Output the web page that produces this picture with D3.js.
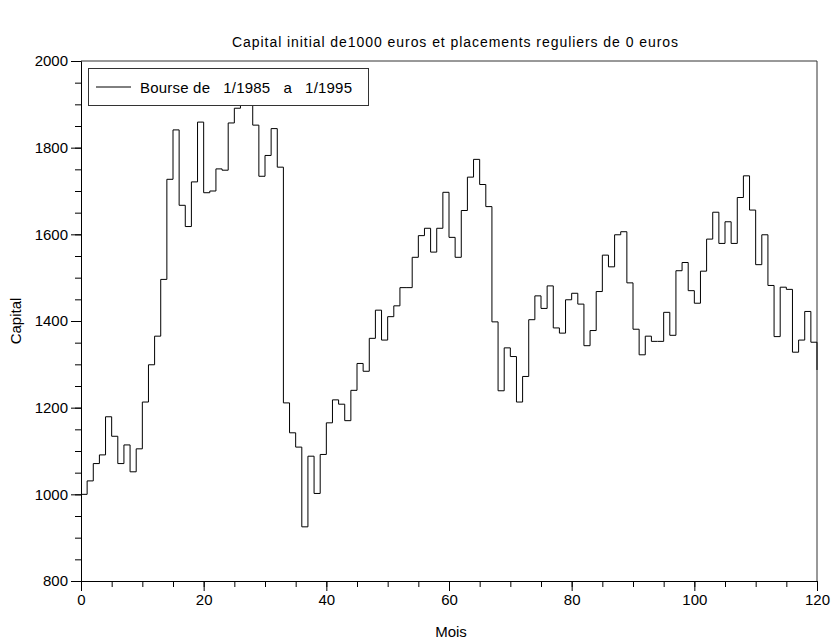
<!DOCTYPE html>
<html>
<head>
<meta charset="utf-8">
<script src="https://cdn.jsdelivr.net/npm/d3@7/dist/d3.min.js"></script>
<style>
  body { margin: 0; background: #fff; }
  text { font-family: "Liberation Sans", Arial, Helvetica, sans-serif; fill: #000; }
</style>
</head>
<body>
<svg id="chart" width="832" height="642"></svg>
<script>
// Monthly capital, month 0 .. 120
const months = d3.range(0, 121);
const capital = [
  1000, 1031, 1071, 1091, 1179, 1134, 1071, 1114, 1052, 1105,
  1213, 1299, 1365, 1496, 1727, 1841, 1667, 1618, 1721, 1859,
  1696, 1700, 1751, 1748, 1857, 1891, 1912, 1928, 1852, 1734,
  1782, 1844, 1755, 1211, 1142, 1109,  925, 1088, 1002, 1092,
  1165, 1218, 1208, 1170, 1240, 1302, 1284, 1360, 1425, 1356,
  1410, 1435, 1477, 1477, 1547, 1597, 1614, 1559, 1614, 1697,
  1593, 1547, 1655, 1732, 1773, 1715, 1664, 1398, 1239, 1338,
  1318, 1213, 1272, 1403, 1458, 1429, 1481, 1384, 1372, 1449,
  1464, 1439, 1343, 1378, 1468, 1552, 1525, 1599, 1606, 1488,
  1381, 1322, 1365, 1353, 1353, 1420, 1367, 1516, 1535, 1470,
  1441, 1515, 1589, 1651, 1579, 1629, 1579, 1685, 1735, 1656,
  1530, 1599, 1482, 1364, 1478, 1473, 1328, 1356, 1422, 1351,
  1287
];
const xTicks = [0, 20, 40, 60, 80, 100, 120];
const xMinorTicks = d3.range(0, 121, 5);
const yTicks = [800, 1000, 1200, 1400, 1600, 1800, 2000];
const yMinorTicks = d3.range(800, 2001, 50);

const titleText = "Capital initial de1000 euros et placements reguliers de 0 euros";
const xLabel = "Mois";
const yLabel = "Capital";
const legendLabel = "Bourse de   1/1985   a   1/1995";

const plot = { left: 81, right: 817, top: 61, bottom: 581 };

const svg = d3.select("#chart");

const x = d3.scaleLinear().domain([0, 120]).range([plot.left, plot.right]);
const y = d3.scaleLinear().domain([800, 2000]).range([plot.bottom, plot.top]);

// frame (top and right sides)
svg.append("path")
  .attr("d", `M${plot.left},${plot.top}H${plot.right}V${plot.bottom}`)
  .attr("fill", "none")
  .attr("stroke", "#333")
  .attr("stroke-width", 1);

// minor ticks
svg.append("g")
  .attr("transform", `translate(${plot.left},0)`)
  .call(d3.axisLeft(y).tickValues(yMinorTicks).tickSize(6).tickFormat(""))
  .call(g => g.select(".domain").remove());
svg.append("g")
  .attr("transform", `translate(0,${plot.bottom})`)
  .call(d3.axisBottom(x).tickValues(xMinorTicks).tickSize(6).tickFormat(""))
  .call(g => g.select(".domain").remove());

// major axes
const yAxis = svg.append("g")
  .attr("transform", `translate(${plot.left},0)`)
  .call(d3.axisLeft(y).tickValues(yTicks).tickSize(10).tickPadding(3).tickFormat(d3.format("d")));
const xAxis = svg.append("g")
  .attr("transform", `translate(0,${plot.bottom})`)
  .call(d3.axisBottom(x).tickValues(xTicks).tickSize(10).tickPadding(3).tickFormat(d3.format("d")));
[yAxis, xAxis].forEach(g => {
  g.attr("font-family", null);
  g.selectAll("text").attr("font-size", 15);
});

// capital series as a step curve
const line = d3.line()
  .x((d, i) => x(months[i]))
  .y(d => y(d))
  .curve(d3.curveStepAfter);

svg.append("path")
  .datum(capital)
  .attr("d", line)
  .attr("fill", "none")
  .attr("stroke", "#000")
  .attr("stroke-width", 1);

// legend
const legend = svg.append("g");
legend.append("rect")
  .attr("x", 88.5).attr("y", 68.5)
  .attr("width", 280).attr("height", 37)
  .attr("fill", "#fff")
  .attr("stroke", "#333");
legend.append("line")
  .attr("x1", 96).attr("x2", 131)
  .attr("y1", 87).attr("y2", 87)
  .attr("stroke", "#000");
legend.append("text")
  .attr("x", 140).attr("y", 92.5)
  .attr("font-size", 15)
  .attr("textLength", 212)
  .attr("lengthAdjust", "spacing")
  .style("white-space", "pre")
  .text(legendLabel);

// titles
svg.append("text")
  .attr("x", 455).attr("y", 47)
  .attr("text-anchor", "middle")
  .attr("font-size", 14)
  .attr("textLength", 446)
  .attr("lengthAdjust", "spacing")
  .text(titleText);

svg.append("text")
  .attr("x", 451).attr("y", 637)
  .attr("text-anchor", "middle")
  .attr("font-size", 15)
  .text(xLabel);

svg.append("text")
  .attr("transform", `translate(21,${(plot.top + plot.bottom) / 2}) rotate(-90)`)
  .attr("text-anchor", "middle")
  .attr("font-size", 15)
  .text(yLabel);
</script>
</body>
</html>
